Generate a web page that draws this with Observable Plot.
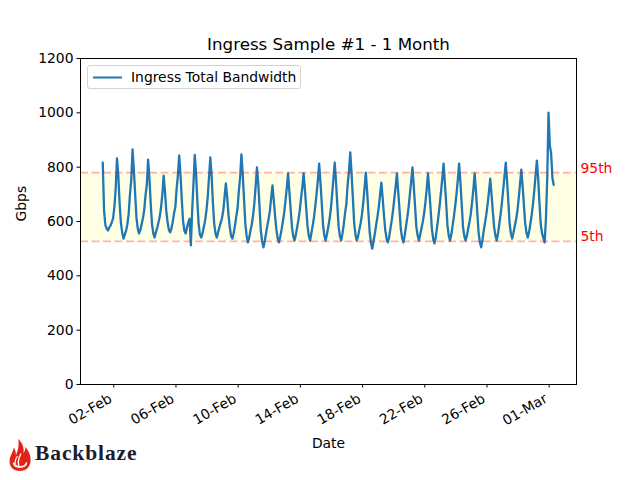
<!DOCTYPE html>
<html><head><meta charset="utf-8">
<script src="https://cdn.jsdelivr.net/npm/d3@7"></script>
<script src="https://cdn.jsdelivr.net/npm/@observablehq/plot@0.6"></script>
<style>
body{margin:0;background:#fff;}
#wrap{position:relative;width:640px;height:480px;font-family:"DejaVu Sans",sans-serif;}
#legend{position:absolute;left:87px;top:65px;width:214px;height:24px;border:1px solid #d4d4d4;border-radius:3px;background:rgba(255,255,255,0.8);box-sizing:border-box;}
#legend svg{position:absolute;left:4px;top:10px;}
#legend span{position:absolute;left:43px;top:2px;font-size:13.9px;line-height:18px;color:#000;white-space:nowrap;}
#logo{position:absolute;left:8px;top:438px;}
#logo span{position:absolute;left:27px;top:3px;font-family:"Liberation Serif","DejaVu Serif",serif;font-weight:bold;font-size:21.5px;letter-spacing:0.9px;color:#1b1c2e;white-space:nowrap;}
</style></head>
<body><div id="wrap"></div>
<script>
const title = "Ingress Sample #1 - 1 Month";
const seriesName = "Ingress Total Bandwidth";
const xLabel = "Date";
const yLabel = "Gbps";
const startTime = "2024-02-01T07:00:00Z";
const stepHours = 2;
// one row per day: 07,09,11,13,15,17,19,21,23 h, then 01,03,05 h of next day
const bandwidth = [
  817, 642, 588, 574, 567, 578, 585, 598, 612, 655, 722, 832,
  770, 668, 596, 560, 537, 552, 566, 590, 628, 700, 752, 865,
  790, 702, 615, 575, 556, 568, 590, 612, 642, 696, 735, 828,
  760, 668, 590, 556, 541, 560, 576, 596, 618, 652, 700, 769,
  712, 640, 598, 570, 560, 574, 598, 630, 652, 720, 770, 843,
  772, 680, 600, 566, 556, 578, 596, 610, 512, 640, 738, 845,
  778, 675, 590, 552, 541, 556, 580, 604, 640, 690, 762, 836,
  770, 670, 592, 556, 541, 560, 578, 595, 612, 640, 690, 740,
  690, 628, 580, 548, 537, 556, 584, 618, 646, 712, 762, 847,
  776, 684, 594, 548, 523, 540, 566, 590, 622, 668, 730, 799,
  740, 652, 566, 526, 505, 528, 556, 584, 610, 640, 690, 733,
  676, 620, 570, 538, 523, 545, 570, 600, 632, 676, 722, 777,
  712, 646, 580, 545, 530, 552, 578, 606, 640, 684, 726, 777,
  718, 650, 584, 548, 530, 556, 585, 615, 656, 702, 752, 813,
  744, 668, 588, 548, 530, 552, 580, 608, 646, 700, 758, 817,
  748, 662, 582, 546, 530, 556, 590, 632, 664, 738, 784, 854,
  778, 688, 596, 552, 530, 545, 570, 594, 624, 668, 722, 780,
  712, 634, 560, 520, 500, 528, 556, 588, 618, 652, 700, 743,
  686, 624, 568, 538, 523, 542, 574, 604, 640, 684, 728, 777,
  710, 644, 574, 540, 523, 548, 582, 614, 652, 700, 748, 799,
  730, 656, 580, 548, 530, 552, 576, 600, 630, 670, 720, 777,
  712, 646, 572, 536, 519, 544, 580, 618, 660, 708, 758, 813,
  744, 668, 586, 548, 530, 552, 586, 620, 658, 702, 754, 813,
  744, 664, 580, 546, 530, 548, 574, 598, 628, 670, 718, 777,
  712, 636, 560, 524, 505, 532, 566, 596, 626, 664, 708, 758,
  700, 636, 580, 548, 530, 556, 590, 626, 668, 716, 766, 817,
  750, 672, 590, 554, 537, 560, 584, 608, 640, 686, 738, 791,
  730, 660, 592, 558, 541, 562, 592, 624, 664, 714, 768, 824,
  760, 668, 590, 556, 540, 523, 610, 760, 1001, 880, 850, 760,
  735
];
const percentileNames = ["95th", "5th"];
const percentileValues = [780, 527];
const tickDates = ["2024-02-02","2024-02-06","2024-02-10","2024-02-14","2024-02-18","2024-02-22","2024-02-26","2024-03-01"];
const tickLabels = ["02-Feb","06-Feb","10-Feb","14-Feb","18-Feb","22-Feb","26-Feb","01-Mar"];
const yTicks = [0, 200, 400, 600, 800, 1000, 1200];
const xDomain = ["2024-01-30T20:40:00Z", "2024-03-02T18:10:00Z"];

const t0 = new Date(startTime).getTime();
const rows = bandwidth.map((v, i) => ({date: new Date(t0 + i * stepHours * 3600e3), value: v}));
const pct = percentileNames.map((n, i) => ({label: n, value: percentileValues[i]}));
const band = [{lo: percentileValues[1], hi: percentileValues[0]}];
const xTicks = tickDates.map((d, i) => ({date: new Date(d + "T00:00:00Z"), label: tickLabels[i]}));

const chart = Plot.plot({
  width: 640, height: 480,
  marginLeft: 80, marginRight: 64, marginTop: 58, marginBottom: 96,
  style: {fontFamily: "DejaVu Sans", fontSize: "13.9px", background: "white", color: "black"},
  x: {type: "utc", domain: xDomain.map(d => new Date(d)), label: null},
  y: {domain: [0, 1200], label: null},
  marks: [
    Plot.rect(band, {y1: "lo", y2: "hi", fill: "yellow", fillOpacity: 0.1}),
    Plot.lineY(rows, {x: "date", y: "value", stroke: "#1f77b4", strokeWidth: 2.3}),
    Plot.ruleY(pct, {y: "value", stroke: "red", strokeOpacity: 0.3, strokeWidth: 1.6, strokeDasharray: "8,3.5"}),
    Plot.text(pct, {y: "value", text: "label", frameAnchor: "right", dx: 4, textAnchor: "start", lineAnchor: "bottom", fill: "red"}),
    Plot.frame({stroke: "black", strokeWidth: 1}),
    Plot.axisY({ticks: yTicks, tickSize: 3.5, tickPadding: 3.5, label: null, tickFormat: d => String(d)}),
    Plot.axisX({ticks: xTicks.map(d => d.date), tickSize: 3.5, tickFormat: () => "", label: null}),
    Plot.text(xTicks, {x: "date", text: "label", frameAnchor: "bottom", dx: -3, dy: 13, rotate: -30, textAnchor: "end", lineAnchor: "middle"}),
    Plot.text([title], {frameAnchor: "top", dy: -8.5, lineAnchor: "bottom", fontSize: 16.7}),
    Plot.text([xLabel], {frameAnchor: "bottom", dy: 63, lineAnchor: "bottom"}),
    Plot.text([yLabel], {frameAnchor: "left", dx: -55, rotate: -90, lineAnchor: "bottom"})
  ]
});
const wrap = document.getElementById("wrap");
wrap.appendChild(chart);

const legend = document.createElement("div");
legend.id = "legend";
legend.innerHTML = `<svg width="32" height="4"><line x1="1" y1="1.5" x2="30" y2="1.5" stroke="#1f77b4" stroke-width="2"/></svg><span></span>`;
legend.querySelector("span").textContent = seriesName;
wrap.appendChild(legend);

const logo = document.createElement("div");
logo.id = "logo";
logo.innerHTML = `<svg width="24" height="34" viewBox="0 0 24 34">
<path d="M12 33 C5 33 1.2 28.5 1.6 22.5 C2 17.5 5 14.5 5.8 9.5 C7.6 12.5 8.2 15 7.8 17.5 C9.5 13.5 11.5 8 10.2 1 C14.5 5 16.5 10 15.4 15 C17 13.2 17.6 11.2 17.2 8.8 C21 13 23 18 22.6 23 C22.2 29 18 33 12 33 Z" fill="#e2231a"/>
<path d="M5.5 24.5 C6.5 30.5 17.5 30.5 18.6 24.5" stroke="#fff" stroke-width="1.6" fill="none"/>
<path d="M11.2 29.5 C9 24 10.8 19.5 13 15.5" stroke="#fff" stroke-width="1.4" fill="none"/>
<path d="M7.2 26.8 C6.8 22.5 8 20 9.6 18" stroke="#fff" stroke-width="1.2" fill="none"/>
</svg><span>Backblaze</span>`;
wrap.appendChild(logo);
</script>
</body></html>
